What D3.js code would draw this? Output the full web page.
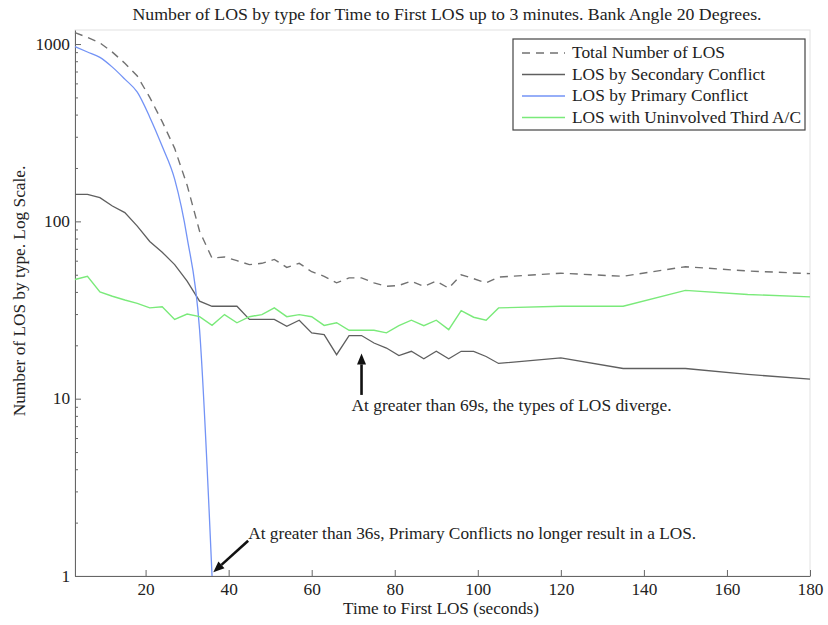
<!DOCTYPE html>
<html>
<head>
<meta charset="utf-8">
<script src="https://cdn.jsdelivr.net/npm/d3@7/dist/d3.min.js"></script>
<style>
  html, body { margin: 0; padding: 0; background: #fff; }
  svg text { font-family: "Liberation Serif", "Times New Roman", serif; fill: #222; }
</style>
</head>
<body>
<svg id="chart" width="828" height="625"></svg>
<script>
// Time to first LOS (s) for the sampled bins
const times = [3, 6, 9, 12, 15, 18, 21, 24, 27, 30, 33, 36, 39, 42, 45, 48, 51, 54, 57, 60,
               63, 66, 69, 72, 75, 78, 81, 84, 87, 90, 93, 96, 99, 102, 105, 120, 135, 150, 165, 180];

// Total number of LOS
const totalLOS = [1160, 1090, 1015, 900, 780, 660, 500, 365, 258, 160, 88, 62, 63, 60, 57, 58, 61, 55, 58, 52,
                  49, 45, 48, 48, 45, 43, 43.5, 46, 43, 46, 42, 50, 47.5, 45, 48.5, 51, 49, 55.5, 52.5, 50.7];

// LOS by secondary conflict
const secondaryLOS = [142, 142, 136, 122, 112, 94, 77, 67, 57, 46, 35.5, 33.2, 33.2, 33.2, 28, 28, 28, 25.6, 27.7, 23.5,
                      23, 17.7, 22.7, 22.7, 20.6, 19.3, 17.5, 18.5, 16.8, 18.5, 16.8, 18.5, 18.5, 17.3, 15.8, 17, 14.8, 14.8, 13.7, 12.9];

// LOS with uninvolved third aircraft
const thirdLOS = [47, 49, 40, 37.8, 36, 34.5, 32.5, 33, 28, 30, 29, 25.9, 29.8, 26.8, 29, 29.8, 32.5, 29, 29.8, 29,
                  25.9, 26.8, 24.3, 24.3, 24.3, 23.5, 25.8, 27.7, 25.8, 27.7, 24.5, 31.4, 28.8, 27.7, 32.5, 33.2, 33.2, 40.8, 38.7, 37.5];

// LOS by primary conflict (ends at 36 s)
const primaryTimes = [3, 6, 9, 12, 15, 18, 21, 24, 27, 30, 33, 36];
const primaryLOS = [966, 902, 841, 741, 634, 535, 387, 265, 173, 81, 24.5, 1];

const xTicks = [20, 40, 60, 80, 100, 120, 140, 160, 180];
const yTicks = [1, 10, 100, 1000];

const titleText = "Number of LOS by type for Time to First LOS up to 3 minutes. Bank Angle 20 Degrees.";
const xLabel = "Time to First LOS (seconds)";
const yLabel = "Number of LOS by type. Log Scale.";
const legendNames = ["Total Number of LOS", "LOS by Secondary Conflict", "LOS by Primary Conflict", "LOS with Uninvolved Third A/C"];
const note69 = "At greater than 69s, the types of LOS diverge.";
const note36 = "At greater than 36s, Primary Conflicts no longer result in a LOS.";

const svg = d3.select("#chart");
const plotL = 75, plotR = 810, plotT = 30, plotB = 576;
const fs = 16;

// set a text run to a given width (px)
const fit = w => sel => sel.attr("lengthAdjust", "spacingAndGlyphs").attr("textLength", w);
// widen a text run by a factor of its natural width
const widen = k => sel => sel.attr("lengthAdjust", "spacingAndGlyphs")
  .attr("textLength", function () { return this.getComputedTextLength() * k; });

const x = d3.scaleLinear().domain([3, 180]).range([plotL, plotR]);
const y = d3.scaleLog().domain([1, 1200]).range([plotB, plotT]);

// light frame on the top and right
svg.append("rect")
  .attr("x", plotL).attr("y", plotT)
  .attr("width", plotR - plotL).attr("height", plotB - plotT)
  .attr("fill", "none").attr("stroke", "#e2e2e2").attr("stroke-width", 1);

// title
svg.append("text")
  .attr("x", 447).attr("y", 20)
  .attr("text-anchor", "middle")
  .attr("font-size", fs)
  .text(titleText)
  .call(fit(629));

// y axis: decades with labels, plus minor ticks
const minorTicks = [];
for (let d = 1; d <= 100; d *= 10) for (let m = 2; m <= 9; m++) minorTicks.push(d * m);

svg.append("g")
  .attr("transform", `translate(${plotL},0)`)
  .call(d3.axisLeft(y).tickValues(minorTicks).tickSize(-3).tickFormat(""))
  .call(g => g.select(".domain").remove())
  .call(g => g.selectAll("line").attr("stroke", "#666"));

svg.append("g")
  .attr("transform", `translate(${plotL},0)`)
  .call(d3.axisLeft(y).tickValues(yTicks).tickSize(-6).tickSizeOuter(0).tickPadding(5).tickFormat(d3.format("d")))
  .call(g => g.select(".domain").attr("stroke", "#666"))
  .call(g => g.selectAll("line").attr("stroke", "#666"))
  .call(g => g.selectAll("text").attr("font-size", fs).attr("font-family", "Liberation Serif").attr("fill", "#222").call(widen(1.08)));

// x axis
svg.append("g")
  .attr("transform", `translate(0,${plotB})`)
  .call(d3.axisBottom(x).tickValues(xTicks).tickSize(-6).tickSizeOuter(0).tickPadding(8))
  .call(g => g.select(".domain").attr("stroke", "#666"))
  .call(g => g.selectAll("line").attr("stroke", "#666"))
  .call(g => g.selectAll("text").attr("font-size", fs).attr("font-family", "Liberation Serif").attr("fill", "#222").call(widen(1.08)));

// axis titles
svg.append("text")
  .attr("x", 441).attr("y", 614)
  .attr("text-anchor", "middle")
  .attr("font-size", fs)
  .text(xLabel)
  .call(fit(196));

svg.append("text")
  .attr("transform", `translate(25,${(plotT + plotB) / 2 - 12}) rotate(-90)`)
  .attr("text-anchor", "middle")
  .attr("font-size", fs)
  .text(yLabel)
  .call(widen(1.08));

// series definitions
const series = [
  { name: legendNames[0], xs: times, ys: totalLOS, color: "#727272", dash: "8,6", width: 1.4, w: 153 },
  { name: legendNames[1], xs: times, ys: secondaryLOS, color: "#5f5f5f", dash: null, width: 1.3, w: 193 },
  { name: legendNames[2], xs: primaryTimes, ys: primaryLOS, color: "#7393f6", dash: null, width: 1.3, w: 176 },
  { name: legendNames[3], xs: times, ys: thirdLOS, color: "#7aea7a", dash: null, width: 1.4, w: 229 }
];

const plot = svg.append("g");
// primary curve is smoothed, the others are polylines
series.forEach((s, k) => {
  const gen = d3.line().x((d, i) => x(s.xs[i])).y(d => y(d));
  if (k === 2) gen.curve(d3.curveMonotoneX);
  plot.append("path")
    .attr("d", gen(s.ys))
    .attr("fill", "none")
    .attr("stroke", s.color)
    .attr("stroke-width", s.width)
    .attr("stroke-dasharray", s.dash);
});

// legend
const lg = svg.append("g");
lg.append("rect")
  .attr("x", 513).attr("y", 39).attr("width", 292).attr("height", 91)
  .attr("fill", "#fff").attr("stroke", "#444").attr("stroke-width", 1.2);
series.forEach((s, i) => {
  const yy = 53 + i * 21.5;
  lg.append("line")
    .attr("x1", 522).attr("x2", 565).attr("y1", yy).attr("y2", yy)
    .attr("stroke", s.color).attr("stroke-width", s.width)
    .attr("stroke-dasharray", s.dash);
  lg.append("text")
    .attr("x", 572).attr("y", yy + 5)
    .attr("font-size", fs)
    .text(s.name)
    .call(fit(s.w));
});

// annotation arrows
const arrow = (x1, y1, x2, y2) => {
  const ang = Math.atan2(y2 - y1, x2 - x1);
  const len = 11, half = 4.5;
  const bx = x2 - len * Math.cos(ang), by = y2 - len * Math.sin(ang);
  svg.append("line")
    .attr("x1", x1).attr("y1", y1).attr("x2", bx).attr("y2", by)
    .attr("stroke", "#111").attr("stroke-width", 2.6);
  svg.append("path")
    .attr("d", `M${x2},${y2}L${bx - half * Math.sin(ang)},${by + half * Math.cos(ang)}L${bx + half * Math.sin(ang)},${by - half * Math.cos(ang)}Z`)
    .attr("fill", "#111");
};

// divergence note at 72 s
arrow(x(72), y(10.5), x(72), y(18));
svg.append("text")
  .attr("x", x(72) - 10).attr("y", y(10.5) + 16)
  .attr("font-size", fs)
  .text(note69)
  .call(fit(320));

// primary conflict cut-off note at 36 s
arrow(x(44.7), y(1.58), x(36.3), y(1.05));
svg.append("text")
  .attr("x", x(44.7)).attr("y", y(1.58) - 2)
  .attr("font-size", fs)
  .text(note36)
  .call(fit(448));
</script>
</body>
</html>
